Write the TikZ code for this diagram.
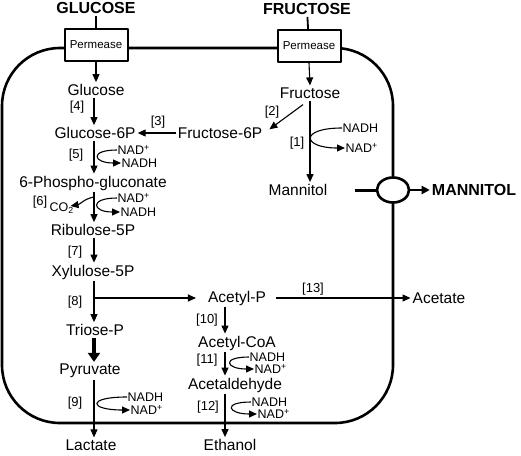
\documentclass[tikz,border=0pt]{standalone}
\usepackage{fontspec}
\setmainfont{Liberation Sans}
\usetikzlibrary{arrows.meta,shapes.geometric,calc}
\begin{document}
\begin{tikzpicture}[x=1pt, y=-1pt, line join=round, >={Triangle[length=8pt,width=7pt]},
	met/.style={inner sep=2pt, font=\fontsize{15.5}{17}\selectfont},
	enz/.style={inner sep=1pt, font=\fontsize{13}{15}\selectfont},
	cof/.style={inner sep=0.5pt, anchor=west, font=\fontsize{12.5}{13}\selectfont},
	ext/.style={inner sep=2pt, font=\fontsize{16}{18}\selectfont\bfseries},
	perm/.style={draw, line width=2pt, fill=white, minimum width=63pt, minimum height=32pt, inner sep=0pt, font=\fontsize{11.5}{13}\selectfont},
	flux/.style={->, line width=1.1pt}]
	\useasboundingbox (0,0) rectangle (521,455);
	\coordinate (colA) at (94,0); % cot trai
	\coordinate (colB) at (225,0); % cot giua
	% te bao
	\draw[line width=2.6pt, rounded corners=58pt] (2,48) rectangle (393,423);
	\node[draw, ellipse, line width=2.6pt, fill=white, minimum width=32pt, minimum height=25pt] (pore) at (393,190) {};
	% ben ngoai
	\node[ext] (glcout) at (96,8) {GLUCOSE};
	\node[ext] (frcout) at (307,9) {FRUCTOSE};
	\node[ext] (mntout) at (474,190) {MANNITOL};
	\node[perm] (gperm) at (96,45) {Permease};
	\node[perm] (fperm) at (309,46) {Permease};
	% chat chuyen hoa
	\node[met] (glc) at (96,90) {Glucose};
	\node[met] (g6p) at (95,133) {Glucose-6P};
	\node[met] (f6p) at (220,133) {Fructose-6P};
	\node[met] (pgl) at (93,183) {6-Phospho-gluconate};
	\node[met] (rib) at (93,230) {Ribulose-5P};
	\node[met] (xyl) at (93,272) {Xylulose-5P};
	\node[met] (trp) at (95,330) {Triose-P};
	\node[met] (pyr) at (90,371) {Pyruvate};
	\node[met] (lac) at (91,445) {Lactate};
	\node[met] (frc) at (310,93) {Fructose};
	\node[met] (mtl) at (298,190) {Mannitol};
	\node[met] (acp) at (237,298) {Acetyl-P};
	\node[met] (act) at (439,298) {Acetate};
	\node[met] (acoa) at (237,343) {Acetyl-CoA};
	\node[met] (ald) at (235,385) {Acetaldehyde};
	\node[met] (eth) at (230,445) {Ethanol};
	% enzym
	\node[enz] (e1) at (297,143) {[1]};
	\node[enz] (e2) at (272,112) {[2]};
	\node[enz] (e3) at (158,122) {[3]};
	\node[enz] (e4) at (77,107) {[4]};
	\node[enz] (e5) at (76,155) {[5]};
	\node[enz] (e6) at (40,202) {[6]};
	\node[enz] (e7) at (75,252) {[7]};
	\node[enz] (e8) at (75,302) {[8]};
	\node[enz] (e9) at (75,403) {[9]};
	\node[enz] (e10) at (207,320) {[10]};
	\node[enz] (e11) at (207,360) {[11]};
	\node[enz] (e12) at (208,407) {[12]};
	\node[enz] (e13) at (313,289) {[13]};
	% dong yeu to
	\node[cof] (n5a) at (117,150) {NAD\textsuperscript{+}};
	\node[cof] (n5b) at (121,163) {NADH};
	\node[cof] (n6a) at (117,198) {NAD\textsuperscript{+}};
	\node[cof] (n6b) at (120,212) {NADH};
	\node[cof] (co2) at (49,208) {CO\textsubscript{2}};
	\node[cof] (n1a) at (342,128) {NADH};
	\node[cof] (n1b) at (345,148) {NAD\textsuperscript{+}};
	\node[cof] (n9a) at (127,397) {NADH};
	\node[cof] (n9b) at (130,410) {NAD\textsuperscript{+}};
	\node[cof] (n11a) at (249,357) {NADH};
	\node[cof] (n11b) at (254,369) {NAD\textsuperscript{+}};
	\node[cof] (n12a) at (251,402) {NADH};
	\node[cof] (n12b) at (257,414) {NAD\textsuperscript{+}};
	% van chuyen
	\draw[line width=1.8pt] (glcout) -- (gperm);
	\draw[line width=1.8pt] (frcout) -- (fperm);
	\draw[flux] (gperm.south) -- (glc.north);
	\draw[flux] (fperm.south) -- (frc.north);
	\draw[line width=3pt, shorten <=25pt] (mtl.east) -- (pore.west);
	\draw[->, line width=2.4pt, >={Triangle[length=8pt,width=8pt]}] (pore.east) -- (mntout.west);
	% con duong chinh
	\draw[flux] (glc.south -| colA) -- (g6p.north -| colA);
	\draw[flux] (f6p.west) -- (g6p.east);
	\draw[flux] ($(frc.south)+(-7,4)$) -- ($(f6p.north east)+(5,4)$);
	\draw[flux] (frc.south) -- (frc.south |- mtl.north);
	\draw[flux] (g6p.south -| colA) -- (pgl.north -| colA);
	\draw[flux] (pgl.south -| colA) -- (rib.north -| colA);
	\draw[flux] (rib.south -| colA) -- (xyl.north -| colA);
	\draw[flux] (xyl.south -| colA) -- (trp.north -| colA);
	\coordinate (br) at (acp -| colA);
	\draw[flux, shorten >=10pt] (br) -- (acp.west);
	\draw[->, line width=4pt, >={Triangle[length=9pt,width=12pt]}] (trp.south -| colA) -- (pyr.north -| colA);
	\draw[flux] (pyr.south -| colA) -- (lac.north -| colA);
	\draw[flux, shorten <=8pt] (acp.east) -- (act.west);
	\draw[flux] (acp.south -| colB) -- (acoa.north -| colB);
	\draw[flux] (acoa.south -| colB) -- (ald.north -| colB);
	\draw[flux] (ald.south -| colB) -- (eth.north -| colB);
	% vong NAD
	\draw[flux] (n5a.west) .. controls +(-28,0) and +(-28,0) .. (n5b.west);
	\draw[flux] (n6a.west) .. controls +(-28,0) and +(-28,0) .. (n6b.west);
	\draw[flux] (n1a.west) .. controls +(-43,0) and +(-43,0) .. (n1b.west);
	\draw[flux] (n9a.west) .. controls +(-41,0) and +(-41,0) .. (n9b.west);
	\draw[flux] (n11a.west) .. controls +(-28,0) and +(-28,0) .. (n11b.west);
	\draw[flux] (n12a.west) .. controls +(-29,0) and +(-29,0) .. (n12b.west);
	\coordinate (c6) at (94,197);
	\draw[flux] (c6) to[out=190, in=10] ($(co2.east)+(-4,-2)$);
\end{tikzpicture}
\end{document}
